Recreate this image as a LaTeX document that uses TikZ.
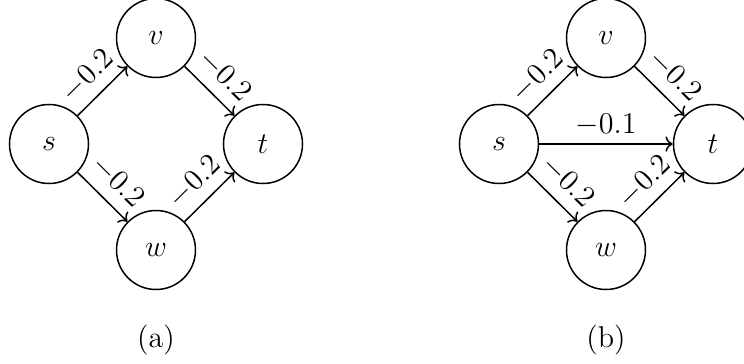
\documentclass[tikz,border=0pt]{standalone}
\usetikzlibrary{arrows.meta}
\begin{document}
\begin{tikzpicture}[x=0.014025cm,y=-0.014025cm,
  vert/.style={circle,draw,semithick,minimum size=79*0.014025cm,inner sep=0pt,font=\large},
  arc/.style={semithick,->},
  wlab/.style={font=\large,sloped,above,inner sep=4pt},
  subcap/.style={font=\large}]
\useasboundingbox (0,0) rectangle (744,364);
% (a)
\node[vert] (s1) at (49,144) {$s$};
\node[vert] (v1) at (156,38) {$v$};
\node[vert] (t1) at (263,144) {$t$};
\node[vert] (w1) at (156,250) {$w$};
\draw[arc] (s1) -- node[wlab] {$-0.2$} (v1);
\draw[arc] (v1) -- node[wlab] {$-0.2$} (t1);
\draw[arc] (s1) -- node[wlab] {$-0.2$} (w1);
\draw[arc] (w1) -- node[wlab] {$-0.2$} (t1);
\node[subcap] (ca) at (156,340) {(a)};
% (b)
\node[vert] (s2) at (499,144) {$s$};
\node[vert] (v2) at (606,38) {$v$};
\node[vert] (t2) at (713,144) {$t$};
\node[vert] (w2) at (606,250) {$w$};
\draw[arc] (s2) -- node[wlab] {$-0.2$} (v2);
\draw[arc] (v2) -- node[wlab] {$-0.2$} (t2);
\draw[arc] (s2) -- node[wlab] {$-0.2$} (w2);
\draw[arc] (w2) -- node[wlab] {$-0.2$} (t2);
\draw[arc] (s2) -- node[wlab,inner sep=3pt] {$-0.1$} (t2);
\node[subcap] (cb) at (606,340) {(b)};
\end{tikzpicture}
\end{document}
